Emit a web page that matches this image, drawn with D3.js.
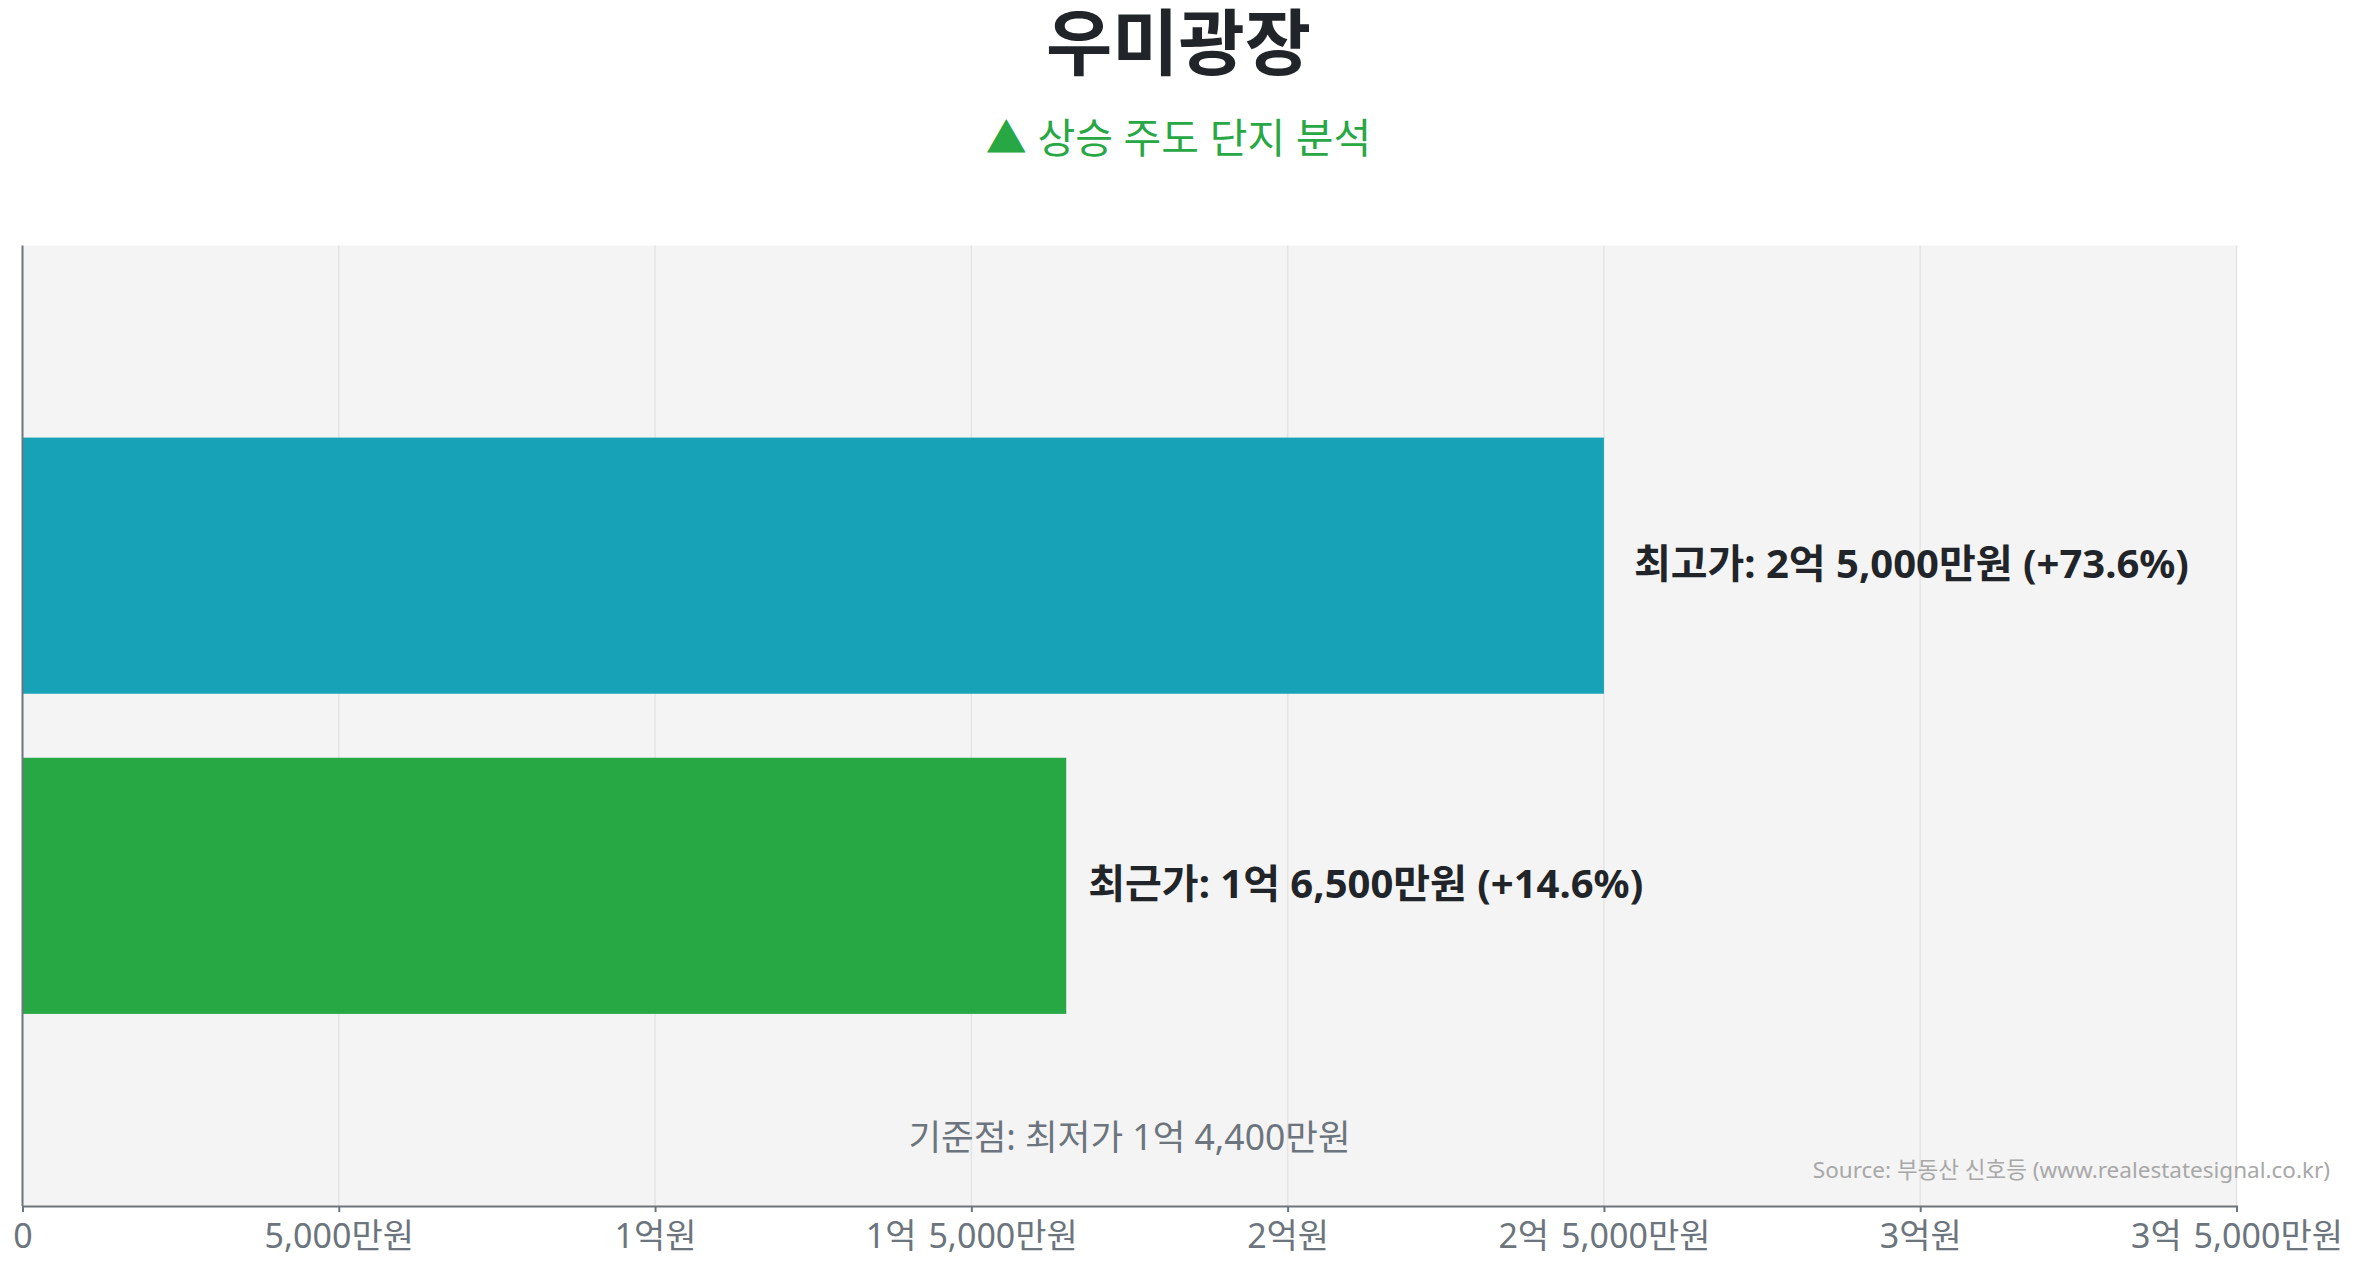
<!DOCTYPE html>
<html><head><meta charset="utf-8">
<script src="https://cdn.jsdelivr.net/npm/d3@7"></script>
<style>
body{margin:0;background:#fff;}
text{font-family:"Noto Sans","Noto Sans CJK KR",sans-serif;}
</style>
</head><body>
<svg id="chart" width="2357" height="1268"></svg>
<script>
const title = "우미광장";
const subtitle = "▲ 상승 주도 단지 분석";
const categories = ["최고가", "최근가"];
const values = [25000, 16500];          // 만원
const changes = [73.6, 14.6];           // %
const baseLabel = "기준점: 최저가";
const baseValue = 14400;                // 만원
const xTicks = [0, 5000, 10000, 15000, 20000, 25000, 30000, 35000];
const tickLabels = ["0", "5,000만원", "1억원", "1억 5,000만원", "2억원", "2억 5,000만원", "3억원", "3억 5,000만원"];
const barColors = ["#17a2b8", "#28a745"];
const sourceText = "Source: 부동산 신호등 (www.realestatesignal.co.kr)";

function fmtWon(v) {
  const eok = Math.floor(v / 10000), man = v % 10000;
  const parts = [];
  if (eok) parts.push(eok + "억");
  if (man) parts.push(d3.format(",")(man) + "만원");
  else parts[parts.length - 1] += "원";
  return parts.join(" ");
}

const W = 2357, H = 1268;
const m = {left: 22.5, right: 2236.5, top: 245.5, bottom: 1206};
const svg = d3.select("#chart");

const x = d3.scaleLinear().domain([0, 35000]).range([m.left, m.right]);
const y = d3.scaleBand().domain(categories).range([m.top, m.bottom]).paddingInner(0.2).paddingOuter(0.6);

// plot background
svg.append("rect").attr("x", m.left).attr("y", m.top)
  .attr("width", m.right - m.left).attr("height", m.bottom - m.top).attr("fill", "#f4f4f4");

// grid
svg.append("g").selectAll("line").data(xTicks.slice(1)).join("line")
  .attr("x1", d => x(d)).attr("x2", d => x(d))
  .attr("y1", m.top).attr("y2", m.bottom)
  .attr("stroke", "#e4e4e4").attr("stroke-width", 1.5);

// bars
svg.append("g").selectAll("rect").data(categories).join("rect")
  .attr("x", x(0)).attr("y", d => y(d))
  .attr("width", (d, i) => x(values[i]) - x(0))
  .attr("height", y.bandwidth())
  .attr("fill", (d, i) => barColors[i]);

// bar labels
svg.append("g").selectAll("text").data(categories).join("text")
  .attr("x", (d, i) => x(values[i]) + (i === 0 ? 30 : 22))
  .attr("y", d => y(d) + y.bandwidth() / 2 - 3)
  .attr("dominant-baseline", "central")
  .attr("font-size", 40).attr("font-weight", 700).attr("fill", "#212529")
  .text((d, i) => `${d}: ${fmtWon(values[i])} (+${changes[i].toFixed(1)}%)`);

// x axis
const xAxis = d3.axisBottom(x).tickValues(xTicks)
  .tickFormat((d, i) => tickLabels[i]).tickSize(6).tickPadding(12);
const gx = svg.append("g").attr("transform", `translate(0,${m.bottom})`).call(xAxis);
gx.select(".domain").attr("stroke", "#6c757d").attr("stroke-width", 2);
gx.selectAll(".tick line").attr("stroke", "#6c757d").attr("stroke-width", 2);
gx.selectAll(".tick text").attr("font-size", 34).attr("fill", "#6c757d")
  .attr("word-spacing", 3)
  .attr("font-family", "'Noto Sans','Noto Sans CJK KR',sans-serif");

// y axis line
svg.append("line").attr("x1", m.left).attr("x2", m.left)
  .attr("y1", m.top).attr("y2", m.bottom)
  .attr("stroke", "#6c757d").attr("stroke-width", 2);

// base text
svg.append("text").attr("x", (m.left + m.right) / 2).attr("y", 1150)
  .attr("text-anchor", "middle").attr("font-size", 35.5).attr("fill", "#6c757d")
  .text(`${baseLabel} ${fmtWon(baseValue)}`);

// source
svg.append("text").attr("x", 2330).attr("y", 1178)
  .attr("text-anchor", "end").attr("font-size", 22.5).attr("fill", "#a8a8a8")
  .text(sourceText);

// titles
svg.append("text").attr("x", W / 2).attr("y", 69)
  .attr("text-anchor", "middle").attr("font-size", 72).attr("font-weight", 700)
  .style("font-family", "'Liberation Sans','Noto Sans CJK KR',sans-serif")
  .attr("fill", "#212529").text(title);
svg.append("text").attr("x", W / 2).attr("y", 153)
  .attr("text-anchor", "middle").attr("font-size", 41).attr("fill", "#28a745")
  .text(subtitle);
</script>
</body></html>
